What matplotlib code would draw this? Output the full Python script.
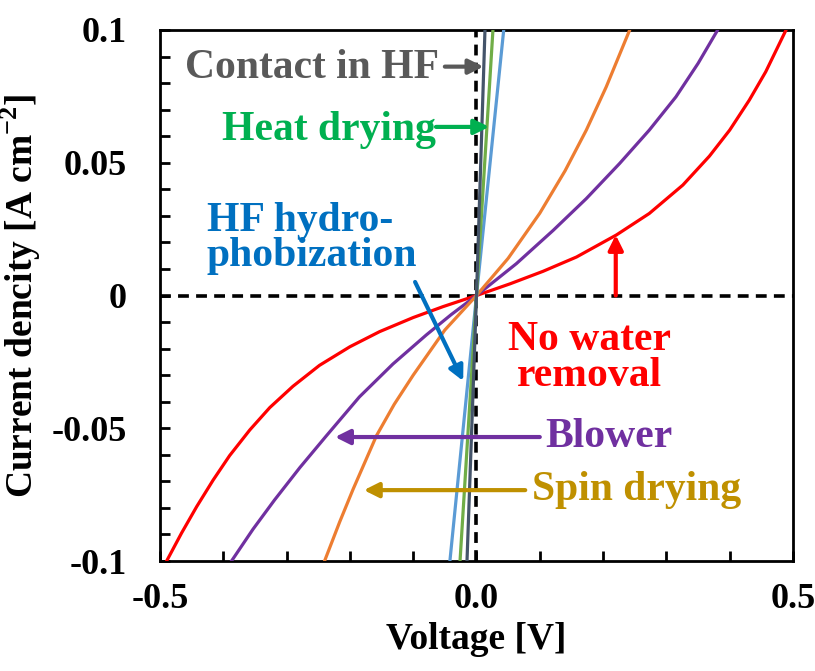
import matplotlib
matplotlib.use('Agg')
import matplotlib.pyplot as plt
from matplotlib.ticker import MultipleLocator

plt.rcParams['font.family'] = ['Liberation Serif', 'DejaVu Serif']
plt.rcParams['font.weight'] = 'bold'
plt.rcParams['mathtext.fontset'] = 'custom'
plt.rcParams['mathtext.rm'] = 'Liberation Serif:bold'

# J-V curves (V, A/cm2)
v_none = [-0.4895, -0.466, -0.442, -0.416, -0.390, -0.358, -0.3265, -0.290, -0.248,
          -0.200, -0.153, -0.100, -0.053, 0.0,
          0.053, 0.105, 0.158, 0.221, 0.273, 0.326, 0.368, 0.400, 0.431, 0.457, 0.489]
j_none = [-0.100, -0.0895, -0.0795, -0.0695, -0.0603, -0.0506, -0.0422, -0.0342, -0.0263,
          -0.0193, -0.0136, -0.0083, -0.0042, 0.0,
          0.0044, 0.0091, 0.0145, 0.0228, 0.0309, 0.0416, 0.0525, 0.0623, 0.0736, 0.0843, 0.100]

v_blower = [-0.387, -0.353, -0.319, -0.279, -0.237, -0.185, -0.132, -0.079, -0.040, 0.0,
            0.063, 0.121, 0.1735, 0.226, 0.273, 0.315, 0.350, 0.381]
j_blower = [-0.100, -0.0880, -0.0770, -0.0648, -0.0528, -0.0382, -0.0258, -0.0148, -0.0072, 0.0,
            0.0120, 0.0245, 0.0365, 0.0497, 0.0623, 0.0748, 0.0874, 0.100]

v_spin = [-0.240, -0.216, -0.195, -0.158, -0.130, -0.100, -0.050, 0.0,
          0.050, 0.100, 0.140, 0.1735, 0.205, 0.242]
j_spin = [-0.100, -0.0852, -0.0730, -0.0528, -0.0410, -0.0300, -0.0130, 0.0,
          0.0140, 0.0310, 0.0470, 0.0623, 0.0786, 0.100]

v_hfhydro = [-0.042, 0.0, 0.043]
j_hfhydro = [-0.100, 0.0, 0.100]

v_heat = [-0.026, 0.0, 0.026]
j_heat = [-0.100, 0.0, 0.100]

v_contact = [-0.015, 0.0, 0.0134]
j_contact = [-0.100, 0.0, 0.100]

xticks = [-0.5, 0.0, 0.5]
xticklabels = ['-0.5', '0.0', '0.5']
yticks = [-0.1, -0.05, 0.0, 0.05, 0.1]
yticklabels = ['-0.1', '-0.05', '0', '0.05', '0.1']

fig = plt.figure(figsize=(8.15, 6.71), dpi=100)
ax = fig.add_axes([0.1963, 0.1639, 0.7767, 0.7914])

ax.axhline(0, color='black', lw=2.6, ls=(0, (3, 2)), zorder=1)
ax.axvline(0, color='black', lw=2.6, ls=(0, (3, 2)), zorder=1)

lw = 2.3
style = dict(lw=lw, zorder=3, solid_joinstyle='round')
ax.plot(v_none, j_none, color='#FF0000', **style)
ax.plot(v_blower, j_blower, color='#7030A0', **style)
ax.plot(v_spin, j_spin, color='#ED7D31', **style)
ax.plot(v_hfhydro, j_hfhydro, color='#5B9BD5', **style)
ax.plot(v_heat, j_heat, color='#70AD47', **style)
ax.plot(v_contact, j_contact, color='#44546A', **style)

ax.set_xlim(-0.5, 0.5)
ax.set_ylim(-0.1, 0.1)
ax.set_xticks(xticks)
ax.set_xticklabels(xticklabels)
ax.set_yticks(yticks)
ax.set_yticklabels(yticklabels)
ax.xaxis.set_minor_locator(MultipleLocator(0.1))
ax.yaxis.set_minor_locator(MultipleLocator(0.01))
ax.tick_params(which='both', direction='in', width=2, length=7)
ax.tick_params(axis='x', which='major', labelsize=26, pad=16)
ax.tick_params(axis='y', which='major', labelsize=26, pad=24)
for s in ax.spines.values():
    s.set_linewidth(2)

ax.set_xlabel('Voltage [V]', fontsize=27, fontweight='bold', labelpad=4)
ax.set_ylabel('Current dencity [A cm$^{-2}$]', fontsize=27, fontweight='bold', labelpad=6)

fs = 30
def arrow(xy, xytext, color):
    ax.annotate('', xy=xy, xytext=xytext,
                arrowprops=dict(arrowstyle='-|>', color=color, lw=3, mutation_scale=22,
                                shrinkA=0, shrinkB=0), zorder=5)

ax.text(-0.060, 0.0857, 'Contact in HF', color='#595959', fontsize=fs, fontweight='bold',
        ha='right', va='center')
arrow((0.011, 0.0862), (-0.050, 0.0862), '#595959')

ax.text(-0.064, 0.0625, 'Heat drying', color='#00B050', fontsize=fs, fontweight='bold',
        ha='right', va='center')
arrow((0.020, 0.0635), (-0.064, 0.0635), '#00B050')

ax.text(-0.426, 0.0215, 'HF hydro-\nphobization', color='#0070C0', fontsize=fs,
        fontweight='bold', ha='left', va='center', linespacing=0.9)
arrow((-0.021, -0.0322), (-0.097, 0.0051), '#0070C0')

ax.text(0.179, -0.0235, 'No water\nremoval', color='#FF0000', fontsize=fs,
        fontweight='bold', ha='center', va='center', linespacing=0.95)
arrow((0.220, 0.0228), (0.220, 0.0), '#FF0000')

ax.text(0.108, -0.0533, 'Blower', color='#7030A0', fontsize=fs, fontweight='bold',
        ha='left', va='center')
arrow((-0.2235, -0.0533), (0.100, -0.0533), '#7030A0')

ax.text(0.088, -0.0733, 'Spin drying', color='#BF9000', fontsize=fs, fontweight='bold',
        ha='left', va='center')
arrow((-0.178, -0.0733), (0.077, -0.0733), '#BF9000')

fig.savefig('out.png', dpi=100)
